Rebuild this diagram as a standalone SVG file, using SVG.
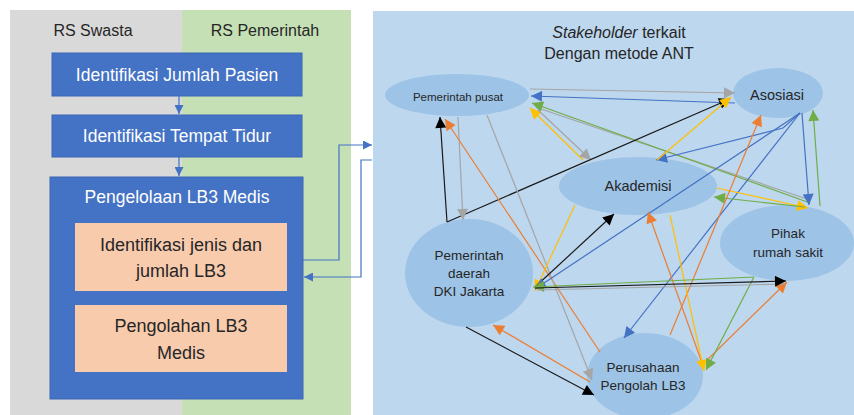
<svg xmlns="http://www.w3.org/2000/svg" width="854" height="415" viewBox="0 0 854 415">
<style>
text{font-family:"Liberation Sans",Arial,sans-serif;}
.wt{fill:#fff;text-anchor:middle;}
.dk{fill:#262626;text-anchor:middle;}
.bx{fill:#4472C4;stroke:#3a66b5;stroke-width:1;}
.ob{fill:#F8CBAD;}
.el{fill:#9DC3E6;}
.c{fill:none;stroke-width:1.2;}
.cb{stroke:#4472C4;}
.cg{stroke:#A5A5A5;}
.cgr{stroke:#70AD47;}
.cy{stroke:#FFC000;}
.co{stroke:#ED7D31;}
.ck{stroke:#1a1a1a;}
</style>
<defs>
<marker id="mb" viewBox="0 0 10 10" refX="10" refY="5" markerWidth="12" markerHeight="11" markerUnits="userSpaceOnUse" orient="auto"><path d="M0,0L10,5L0,10z" fill="#4472C4"/></marker>
<marker id="mg" viewBox="0 0 10 10" refX="10" refY="5" markerWidth="12" markerHeight="11" markerUnits="userSpaceOnUse" orient="auto"><path d="M0,0L10,5L0,10z" fill="#A5A5A5"/></marker>
<marker id="mgr" viewBox="0 0 10 10" refX="10" refY="5" markerWidth="12" markerHeight="11" markerUnits="userSpaceOnUse" orient="auto"><path d="M0,0L10,5L0,10z" fill="#70AD47"/></marker>
<marker id="my" viewBox="0 0 10 10" refX="10" refY="5" markerWidth="12" markerHeight="11" markerUnits="userSpaceOnUse" orient="auto"><path d="M0,0L10,5L0,10z" fill="#FFC000"/></marker>
<marker id="mo" viewBox="0 0 10 10" refX="10" refY="5" markerWidth="12" markerHeight="11" markerUnits="userSpaceOnUse" orient="auto"><path d="M0,0L10,5L0,10z" fill="#ED7D31"/></marker>
<marker id="mk" viewBox="0 0 10 10" refX="10" refY="5" markerWidth="12" markerHeight="11" markerUnits="userSpaceOnUse" orient="auto"><path d="M0,0L10,5L0,10z" fill="#000"/></marker>
<marker id="ms" viewBox="0 0 10 10" refX="10" refY="5" markerWidth="9" markerHeight="9" markerUnits="userSpaceOnUse" orient="auto"><path d="M0,0L10,5L0,10z" fill="#4472C4"/></marker>
</defs>
<rect width="854" height="415" fill="#fff"/>
<!-- lanes -->
<g id="lane-swasta"><rect x="10" y="10" width="172" height="405" fill="#D9D9D9"/><text class="dk" x="93" y="36" font-size="16">RS Swasta</text></g>
<g id="lane-pemerintah"><rect x="182" y="10" width="169" height="405" fill="#C5E0B4"/><text class="dk" x="265" y="36" font-size="16">RS Pemerintah</text></g>
<g id="panel-stakeholder"><rect x="373" y="11" width="481" height="404" fill="#BDD7EE"/>
<text class="dk" x="619" y="38" font-size="16"><tspan font-style="italic">Stakeholder</tspan> terkait</text>
<text class="dk" x="619" y="59" font-size="16">Dengan metode ANT</text></g>
<!-- left nodes -->
<g id="n-jumlah-pasien"><rect class="bx" x="52" y="53" width="250" height="43"/><text class="wt" x="177" y="81" font-size="17.5">Identifikasi Jumlah Pasien</text></g>
<g id="n-tempat-tidur"><rect class="bx" x="52" y="115" width="250" height="42"/><text class="wt" x="177" y="142" font-size="17.5">Identifikasi Tempat Tidur</text></g>
<g id="n-pengelolaan"><rect class="bx" x="50" y="177" width="253" height="222"/><text class="wt" x="177" y="203" font-size="17.5">Pengelolaan LB3 Medis</text></g>
<g id="n-identifikasi-jenis"><rect class="ob" x="75" y="223" width="212" height="68"/><text class="dk" x="181" y="251" font-size="18">Identifikasi jenis dan</text><text class="dk" x="181" y="277" font-size="18">jumlah LB3</text></g>
<g id="n-pengolahan"><rect class="ob" x="75" y="305" width="212" height="67"/><text class="dk" x="181" y="332" font-size="18">Pengolahan LB3</text><text class="dk" x="181" y="359" font-size="18">Medis</text></g>
<!-- right nodes -->
<g id="n-pemerintah-pusat"><ellipse class="el" cx="457" cy="95" rx="72" ry="21"/><text class="dk" x="458" y="101" font-size="11.5">Pemerintah pusat</text></g>
<g id="n-asosiasi"><ellipse class="el" cx="778" cy="93" rx="45" ry="25"/><text class="dk" x="777" y="100" font-size="14.5">Asosiasi</text></g>
<g id="n-akademisi"><ellipse class="el" cx="638" cy="186" rx="79" ry="29"/><text class="dk" x="638" y="191" font-size="14.5">Akademisi</text></g>
<g id="n-pihak-rs"><ellipse class="el" cx="787" cy="243" rx="67" ry="38"/><text class="dk" x="788" y="238" font-size="13.5">Pihak</text><text class="dk" x="788" y="257" font-size="13.5">rumah sakit</text></g>
<g id="n-pemerintah-daerah"><ellipse class="el" cx="469" cy="273" rx="64" ry="54"/><text class="dk" x="469" y="260" font-size="13.5">Pemerintah</text><text class="dk" x="469" y="278" font-size="13.5">daerah</text><text class="dk" x="469" y="296" font-size="13.5">DKI Jakarta</text></g>
<g id="n-perusahaan"><ellipse class="el" cx="645" cy="376" rx="58" ry="43"/><text class="dk" x="643" y="372" font-size="13.5">Perusahaan</text><text class="dk" x="643" y="390" font-size="13.5">Pengolah LB3</text></g>
<!-- connectors -->
<g id="connectors">
<path class="c cb" d="M179,96V114" marker-end="url(#ms)"/>
<path class="c cb" d="M179,157V176" marker-end="url(#ms)"/>
<path class="c cb" d="M303,260H339V145H372" marker-end="url(#ms)"/>
<path class="c cb" d="M372,160H361V277H304" marker-end="url(#ms)"/>

<path class="c cg" d="M530,89L735,93" marker-end="url(#mg)"/>
<path class="c cb" d="M735,103L531,96" marker-end="url(#mb)"/>
<path class="c cg" d="M538,108L810,200"/>
<path class="c cgr" d="M810,203L532,103" marker-end="url(#mgr)"/>
<path class="c cy" d="M583,160L530,108" marker-end="url(#my)"/>
<path class="c cg" d="M538,110L591,160" marker-end="url(#mg)"/>
<path class="c ck" d="M447,222L440,117" marker-end="url(#mk)"/>
<path class="c ck" d="M447,222L730,99" marker-end="url(#mk)"/>
<path class="c cg" d="M458,117L463,220" marker-end="url(#mg)"/>
<path class="c co" d="M600,352L445,119" marker-end="url(#mo)"/>
<path class="c cg" d="M487,115L592,380" marker-end="url(#mg)"/>
<path class="c cy" d="M575,205L535,291" marker-end="url(#my)"/>
<path class="c ck" d="M535,287L614,214" marker-end="url(#mk)"/>
<path class="c cb" d="M800,113L783,128L656,160" marker-end="url(#mb)"/>
<path class="c cb" d="M800,113L535,289" marker-end="url(#mb)"/>
<path class="c cb" d="M800,113L624,338" marker-end="url(#mb)"/>
<path class="c cb" d="M802,113L809,205" marker-end="url(#mb)"/>
<path class="c cgr" d="M820,206L813,110" marker-end="url(#mgr)"/>
<path class="c cy" d="M717,188L808,208" marker-end="url(#my)"/>
<path class="c cgr" d="M805,207L714,197" marker-end="url(#mgr)"/>
<path class="c cy" d="M657,160L731,97" marker-end="url(#my)"/>
<path class="c co" d="M670,335L761,115" marker-end="url(#mo)"/>
<path class="c co" d="M702,363L648,212" marker-end="url(#mo)"/>
<path class="c co" d="M702,365L787,282" marker-end="url(#mo)"/>
<path class="c cy" d="M670,215L704,371" marker-end="url(#my)"/>
<path class="c cgr" d="M754,277L706,370" marker-end="url(#mgr)"/>
<path class="c cgr" d="M754,277L533,287" marker-end="url(#mgr)"/>
<path class="c cg" d="M537,290L785,284"/>
<path class="c ck" d="M535,288L786,281" marker-end="url(#mk)"/>
<path class="c ck" d="M466,327L594,395" marker-end="url(#mk)"/>
<path class="c co" d="M590,382L493,325" marker-end="url(#mo)"/>
</g>
</svg>
